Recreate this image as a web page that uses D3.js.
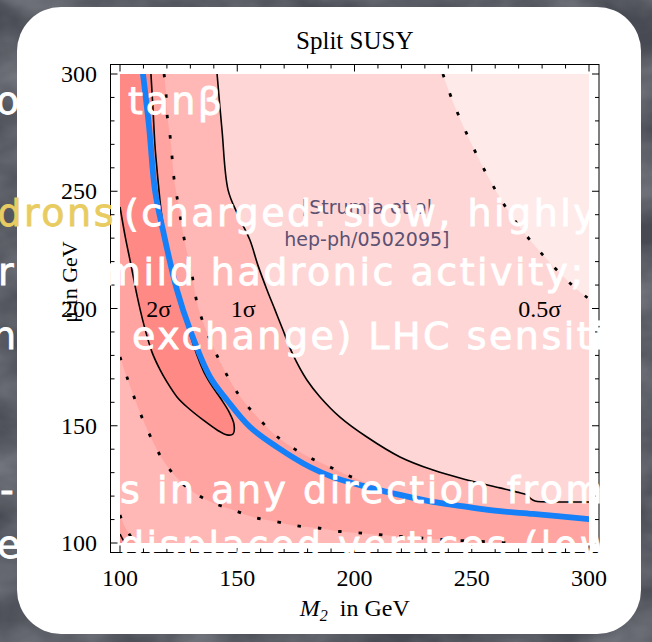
<!DOCTYPE html>
<html>
<head>
<meta charset="utf-8">
<script src="https://cdn.jsdelivr.net/npm/d3@7"></script>
<style>
  html, body { margin: 0; padding: 0; background: #4b4e56; overflow: hidden; }
  svg { display: block; }
</style>
</head>
<body>
<svg id="slide" width="652" height="642"></svg>
<script>
// ---------- data: points are [M2, mu] in GeV ----------
const xTickValues = [100, 150, 200, 250, 300];
const yTickValues = [100, 150, 200, 250, 300];

// best-fit valley (blue)
const bestFit = [
  [109.8, 300], [112.4, 277.4], [114.9, 250.5], [118.3, 233.5], [124.3, 207.9],
  [129.9, 190.8], [138.4, 170.8], [145.6, 161.0], [155.4, 149.5], [167.0, 140.9],
  [181.0, 132.4], [190.8, 128.1], [205.3, 123.9], [219.4, 120.5], [233.5, 117.5],
  [248.0, 115.4], [262.0, 113.6], [276.1, 112.4], [300, 110.2]
];

// 2 sigma contour (enters at the left edge, leaves through the top)
const sigma2 = [
  [100, 243.3], [102.1, 231.3], [104.7, 218.5], [107.2, 205.8], [110.2, 193.0],
  [113.6, 181.5], [117.1, 173.8], [120.0, 168.7], [124.3, 162.3], [128.6, 158.0],
  [135.4, 152.5], [141.4, 148.2], [145.6, 146.1], [148.2, 146.5], [148.6, 150.7],
  [146.5, 155.9], [143.1, 161.4], [139.2, 167.0], [135.8, 172.9], [132.8, 180.2],
  [129.9, 188.7], [126.9, 198.1], [123.9, 207.9], [121.3, 218.5], [119.2, 230.1],
  [117.5, 242.0], [116.2, 254.8], [114.9, 269.7], [114.1, 284.6], [113.2, 300]
];

// 1.5 sigma contour, branch above the valley
const sigma15Upper = [
  [118.8, 300], [119.6, 292.3], [120.0, 283.4], [121.3, 274.0], [122.2, 264.6],
  [123.0, 255.7], [124.3, 247.5], [127.7, 227.9], [130.7, 214.3], [133.3, 200.6],
  [139.7, 183.6], [148.2, 167.0], [153.3, 159.7], [159.7, 152.5], [166.1, 146.1],
  [173.8, 140.5], [181.4, 136.2], [190.4, 132.0], [198.9, 128.1], [208.7, 124.3]
];
// where it runs on underneath the valley line to the right edge
const sigma15UpperTail = [[219.4, 121.3], [240.7, 117.9], [262.0, 114.9], [300, 111.5]];

// 1.5 sigma contour, branch below the valley
const sigma15Lower = [
  [100, 179.3], [103.4, 169.5], [106.8, 160.1], [110.2, 151.6], [114.1, 143.1],
  [118.3, 135.4], [124.3, 127.7], [131.1, 121.8], [139.7, 117.1], [148.2, 114.1],
  [156.7, 111.1], [167.0, 109.0], [175.5, 107.3], [184.4, 106.4], [193.8, 104.9],
  [203.2, 104.2], [212.2, 103.4], [222.4, 102.6], [240.7, 101.3], [259.1, 100.4],
  [266.3, 100]
];

// 1 sigma contour
const sigma1 = [
  [141.4, 300], [143.5, 276.1], [146.1, 250.5], [150.3, 239.9], [155.4, 229.2],
  [158.8, 218.5], [162.7, 207.9], [166.1, 199.4], [169.5, 190.8], [173.8, 180.2],
  [179.7, 169.5], [185.3, 162.3], [193.8, 153.7], [205.3, 145.2], [219.4, 136.7],
  [233.5, 131.1], [248.0, 126.9], [262.0, 123.5], [269.3, 121.7], [273.6, 120.5],
  [275.3, 118.8], [277.0, 117.9], [287.6, 117.5], [300, 117.5]
];

// 0.5 sigma contour
const sigma05 = [
  [237.7, 300], [242.0, 288.1], [249.7, 270.6], [258.2, 253.9], [267.6, 238.6],
  [280.0, 223.2], [293.2, 209.6], [300, 204.1]
];

// small contours in the lower-left corner
const cornerDotted = [[100, 111.9], [102.1, 106.8], [104.7, 102.6], [106.4, 100]];
const cornerSolid = [[100, 103.8], [100.9, 102.1], [102.1, 100]];

// ---------- layout ----------
const svg = d3.select("#slide");
const W = 652, H = 642;

const x = d3.scaleLinear().domain([100, 300]).range([120, 589]);
const y = d3.scaleLinear().domain([100, 300]).range([543, 74]);

const frame = { left: 110.5, top: 64.5, right: 599, bottom: 552.5 };

const serif = "'Liberation Serif', 'Times New Roman', serif";
const colors = {
  band2: "#ff8985",   // beyond 2 sigma
  band15: "#ffa4a0",  // 1.5 - 2 sigma
  band1: "#ffb8b5",   // 1 - 1.5 sigma
  band05: "#ffd6d6",  // 0.5 - 1 sigma
  band0: "#ffeaea",   // below 0.5 sigma
  valley: "#1580f8"
};

// ---------- slide background and card ----------
const defs = svg.append("defs");
const grain = defs.append("filter").attr("id", "grain")
  .attr("x", 0).attr("y", 0).attr("width", "100%").attr("height", "100%");
grain.append("feTurbulence").attr("type", "fractalNoise")
  .attr("baseFrequency", "0.012 0.02").attr("numOctaves", 4).attr("seed", 7).attr("result", "n");
grain.append("feColorMatrix").attr("in", "n").attr("type", "matrix")
  .attr("values", "0 0 0 0 0.36  0 0 0 0 0.37  0 0 0 0 0.41  0 0 0 0.9 -0.2");

svg.append("rect").attr("width", W).attr("height", H).attr("fill", "#474a52");
svg.append("rect").attr("width", W).attr("height", H).attr("filter", "url(#grain)").attr("opacity", 0.9);

svg.append("rect")
  .attr("x", 17).attr("y", 7).attr("width", 624).attr("height", 627)
  .attr("rx", 44).attr("ry", 44)
  .attr("fill", "#ffffff");

// ---------- plot ----------
const plot = svg.append("g");

defs.append("clipPath").attr("id", "dataArea")
  .append("rect")
  .attr("x", x(100)).attr("y", y(300))
  .attr("width", x(300) - x(100)).attr("height", y(100) - y(300));

const curve = d3.line()
  .x(d => x(d[0])).y(d => y(d[1]))
  .curve(d3.curveCatmullRom.alpha(0.5));
const pt = (m, u) => `L${x(m)},${y(u)}`;

const bands = plot.append("g").attr("clip-path", "url(#dataArea)");

bands.append("rect")
  .attr("x", x(100)).attr("y", y(300))
  .attr("width", x(300) - x(100)).attr("height", y(100) - y(300))
  .attr("fill", colors.band05);

// everything below / left of the 1 sigma line
bands.append("path")
  .attr("d", curve(sigma1) + pt(300, 100) + pt(100, 100) + pt(100, 300) + "Z")
  .attr("fill", colors.band1);

// beyond the 0.5 sigma line
bands.append("path")
  .attr("d", curve(sigma05) + pt(300, 300) + "Z")
  .attr("fill", colors.band0);

// between the two 1.5 sigma branches
const upperEdge = sigma15Upper.concat(sigma15UpperTail);
const lowerBack = sigma15Lower.slice().reverse();
bands.append("path")
  .attr("d", curve(upperEdge) + pt(300, 100) + curve(lowerBack).replace(/^M/, "L") + pt(100, 300) + "Z")
  .attr("fill", colors.band15);
bands.append("path")
  .attr("d", curve(cornerDotted) + pt(100, 100) + "Z")
  .attr("fill", colors.band15);

// inside 2 sigma
bands.append("path")
  .attr("d", curve(sigma2) + pt(100, 300) + "Z")
  .attr("fill", colors.band2);
bands.append("path")
  .attr("d", curve(cornerSolid) + pt(100, 100) + "Z")
  .attr("fill", colors.band2);

// contour lines
const lines = plot.append("g").attr("clip-path", "url(#dataArea)").attr("fill", "none");
[sigma2, sigma1, cornerSolid].forEach(c => {
  lines.append("path").attr("d", curve(c))
    .attr("stroke", "#000").attr("stroke-width", 1.6).attr("stroke-linejoin", "round");
});
[sigma15Upper, sigma15Lower, sigma05, cornerDotted].forEach(c => {
  lines.append("path").attr("d", curve(c))
    .attr("stroke", "#000").attr("stroke-width", 2.8)
    .attr("stroke-dasharray", "3.5 17");
});
lines.append("path").attr("d", curve(bestFit))
  .attr("stroke", colors.valley).attr("stroke-width", 5.8).attr("stroke-linecap", "round");

// contour labels
const sigmaText = plot.append("g")
  .attr("font-family", serif).attr("font-size", 24).attr("text-anchor", "middle").attr("fill", "#000");
sigmaText.append("text").attr("x", x(116.5)).attr("y", y(196.5)).text("2σ");
sigmaText.append("text").attr("x", x(152.5)).attr("y", y(196.5)).text("1σ");
sigmaText.append("text").attr("x", x(279)).attr("y", y(196.5)).text("0.5σ");

// reference note
const note = plot.append("g")
  .attr("font-family", "'DejaVu Sans', sans-serif").attr("font-size", 19)
  .attr("text-anchor", "middle").attr("fill", "#5b5172");
note.append("text").attr("x", x(205.3)).attr("y", y(240.3)).text("[Strumia et al");
note.append("text").attr("x", x(205.3)).attr("y", y(226.7)).text("hep-ph/0502095]");

// frame and ticks
plot.append("rect")
  .attr("x", frame.left).attr("y", frame.top)
  .attr("width", frame.right - frame.left).attr("height", frame.bottom - frame.top)
  .attr("fill", "none").attr("stroke", "#000").attr("stroke-width", 1);

const minor = d3.range(100, 301, 10);
const tickLen = v => (v % 50 === 0 ? 7 : 4);
const ticks = plot.append("g").attr("stroke", "#000").attr("stroke-width", 1);
minor.forEach(v => {
  const px = x(v), py = y(v), L = tickLen(v);
  ticks.append("line").attr("x1", px).attr("x2", px).attr("y1", frame.bottom).attr("y2", frame.bottom - L);
  ticks.append("line").attr("x1", px).attr("x2", px).attr("y1", frame.top).attr("y2", frame.top + L);
  ticks.append("line").attr("y1", py).attr("y2", py).attr("x1", frame.left).attr("x2", frame.left + L);
  ticks.append("line").attr("y1", py).attr("y2", py).attr("x1", frame.right).attr("x2", frame.right - L);
});

const axisText = plot.append("g").attr("font-family", serif).attr("font-size", 24).attr("fill", "#000");
axisText.selectAll(".xl").data(xTickValues).join("text")
  .attr("x", d => x(d)).attr("y", 586).attr("text-anchor", "middle").text(d => d);
axisText.selectAll(".yl").data(yTickValues).join("text")
  .attr("x", 97).attr("y", d => y(d) + 8).attr("text-anchor", "end").text(d => d);

// titles
plot.append("text")
  .attr("x", (frame.left + frame.right) / 2).attr("y", 49)
  .attr("text-anchor", "middle").attr("font-family", serif).attr("font-size", 25)
  .text("Split SUSY");

const xl = plot.append("text")
  .attr("x", (frame.left + frame.right) / 2).attr("y", 616)
  .attr("text-anchor", "middle").attr("font-family", serif).attr("font-size", 24);
xl.append("tspan").attr("font-style", "italic").text("M");
xl.append("tspan").attr("font-style", "italic").attr("font-size", 16).attr("dy", 5).text("2");
xl.append("tspan").attr("dy", -5).text("\u2002in GeV");

plot.append("text")
  .attr("transform", "translate(77,282) rotate(-90)")
  .attr("text-anchor", "middle").attr("font-family", serif).attr("font-size", 22)
  .text("μ in GeV");

// ---------- slide bullet text running over the card ----------
const bulletFont = "'DejaVu Sans', sans-serif";
const bullet = svg.append("g")
  .attr("font-family", bulletFont).attr("font-size", 38)
  .attr("letter-spacing", 2.5).attr("fill", "#ffffff")
  .attr("stroke", "#ffffff").attr("stroke-width", 0.8);
const bulletRuns = [
  ["o", -4, 114], ["tanβ", 128, 114],
  ["(charged: slow, highly", 124, 226],
  ["r", -2, 285], ["mild hadronic activity;", 104, 285],
  ["n", -8, 349], ["exchange) LHC sensiti", 132, 349],
  ["-", 0, 503], ["s in any direction from", 120, 503],
  ["e", -3, 558], ["displaced vertices (low", 120, 558]
];
bulletRuns.forEach(([t, bx, by]) => bullet.append("text").attr("x", bx).attr("y", by).text(t));
svg.append("text")
  .attr("x", 116).attr("y", 226).attr("text-anchor", "end")
  .attr("font-family", bulletFont).attr("font-size", 38).attr("letter-spacing", 2.5)
  .attr("fill", "#e8cc62").attr("stroke", "#e8cc62").attr("stroke-width", 0.8)
  .text("R-hadrons");
</script>
</body>
</html>
